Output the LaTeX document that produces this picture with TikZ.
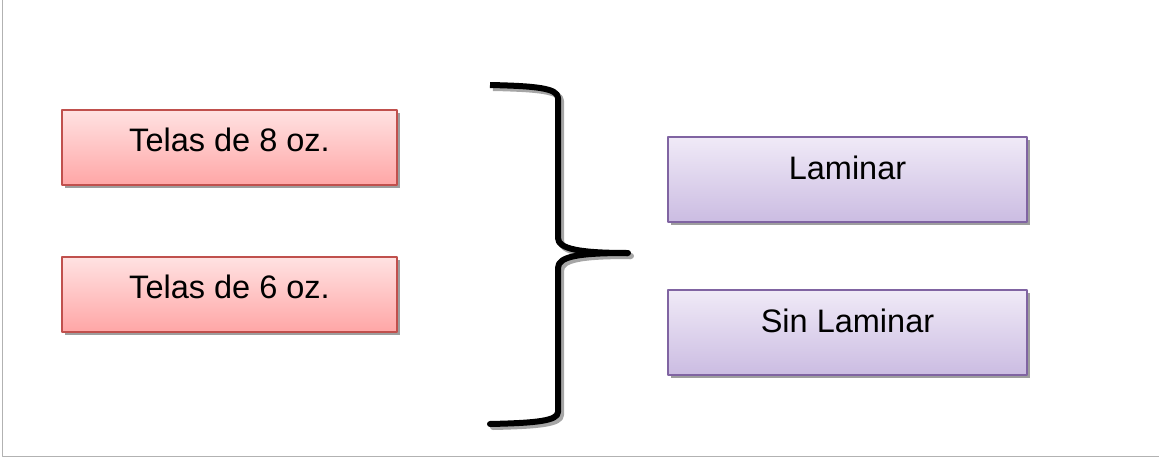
\documentclass[tikz,border=0pt]{standalone}
\usepackage{fontspec}
\setmainfont{Liberation Sans}
\usetikzlibrary{shadows}
\definecolor{telaline}{HTML}{C0504D}
\definecolor{telatop}{HTML}{FFE2E2}
\definecolor{telabot}{HTML}{FFA6A6}
\definecolor{lamline}{HTML}{8064A2}
\definecolor{lamtop}{HTML}{F0EAF7}
\definecolor{lambot}{HTML}{CBBCE2}
\tikzset{
    boxshadow/.style={drop shadow={shadow xshift=3pt, shadow yshift=-3pt, fill=black!38, opacity=1}},
    telabox/.style={draw=telaline, line width=1.2pt, top color=telatop, bottom color=telabot, boxshadow,
        minimum width=335pt, minimum height=75pt, inner sep=0pt, text height=23pt, text depth=16pt},
    lambox/.style={draw=lamline, line width=1.2pt, top color=lamtop, bottom color=lambot, boxshadow,
        minimum width=359pt, minimum height=85pt, inner sep=0pt, text height=23pt, text depth=24pt},
}
\begin{document}
\begin{tikzpicture}[x=1pt, y=-1pt, font=\fontsize{32.5}{37}\selectfont, line join=round]
    \useasboundingbox (0,0) rectangle (1159,458);
    % marco
    \draw[black!30, line width=1pt] (2.5,0)--(2.5,456.5)--(1159,456.5);
    % telas
    \node[telabox] (t8) at (229.5,147.5) {Telas de 8 oz.};
    \node[telabox] (t6) at (229.5,294.5) {Telas de 6 oz.};
    % laminado
    \node[lambox] (lam) at (847.5,179.5) {Laminar};
    \node[lambox] (sinlam) at (847.5,332.5) {Sin Laminar};
    % llave
    \foreach \c/\dx in {black!35/3, black/0}
    {
        \begin{scope}[xshift=\dx pt, yshift=-\dx pt]
            \draw[\c, line width=6pt] (490,85) .. controls (535,86) and (558,88) .. (558,98)
                -- (558,238) .. controls (558,249) and (580,253) .. (628,253);
            \draw[\c, line width=6pt, line cap=round] (628,253) .. controls (580,253) and (558,256) .. (558,268)
                -- (558,412) .. controls (558,421) and (535,423) .. (490,424);
        \end{scope}
    }
\end{tikzpicture}
\end{document}
